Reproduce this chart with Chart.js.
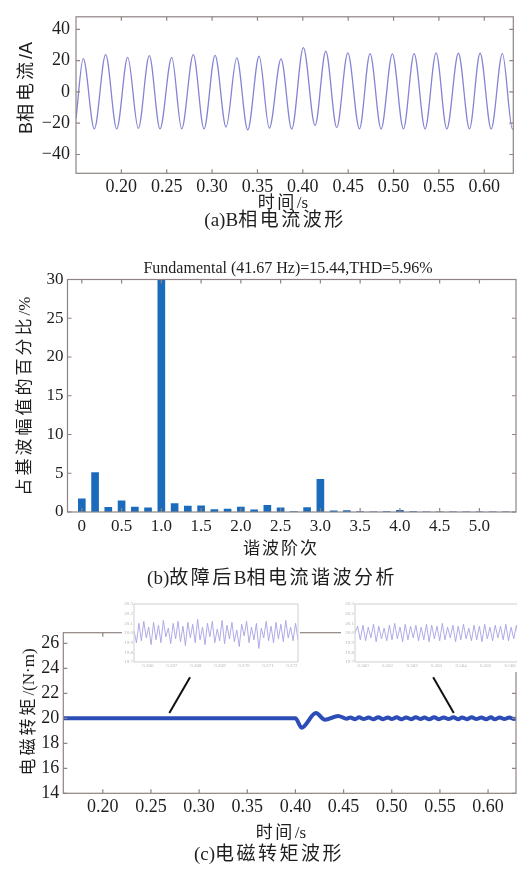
<!DOCTYPE html>
<html><head><meta charset="utf-8">
<script src="https://cdn.jsdelivr.net/npm/chart.js@4.4.1/dist/chart.umd.min.js"></script>
<style>
html,body{margin:0;padding:0;background:#fff;}
#page{position:relative;width:517px;height:871px;overflow:hidden;background:#fff;}
canvas{position:absolute;}
.t{position:absolute;white-space:nowrap;line-height:1;color:#1e1e1e;transform:translate(-50%,-50%);font-family:'Liberation Serif','Noto Sans CJK SC',serif;}
.v{transform:translate(-50%,-50%) rotate(-90deg);}
.s{letter-spacing:2.5px;}
.s3{letter-spacing:3px;}
</style></head>
<body><div id="page">
<canvas id="ca" width="517" height="210" style="left:0;top:0"></canvas>
<canvas id="cb" width="517" height="309" style="left:0;top:250px"></canvas>
<canvas id="cc" width="517" height="247" style="left:0;top:595px"></canvas>
<canvas id="ci1" width="178" height="74" style="left:122px;top:598px;background:#fff"></canvas>
<canvas id="ci2" width="186" height="74" style="left:341px;top:598px;background:#fff"></canvas>

<div class="t v" style="left:26px;top:88px;font-size:18px;font-family:'Liberation Sans','Noto Sans CJK SC',sans-serif">B<span class="s3">相电流</span>/A</div>
<div class="t" style="left:283px;top:202px;font-size:17px"><span class="s">时间</span>/s</div>
<div class="t" style="left:275px;top:219px;font-size:19px">(a)B<span class="s">相电流波形</span></div>

<div class="t" style="left:288px;top:268px;font-size:16px">Fundamental (41.67 Hz)=15.44,THD=5.96%</div>
<div class="t v" style="left:24px;top:396px;font-size:17px"><span class="s3">占基波幅值的百分比</span>/%</div>
<div class="t" style="left:281px;top:548px;font-size:17px;letter-spacing:2px">谐波阶次</div>
<div class="t" style="left:272px;top:577px;font-size:19px">(b)<span class="s">故障后</span>B<span class="s">相电流谐波分析</span></div>

<div class="t v" style="left:28px;top:712px;font-size:17px"><span class="s3">电磁转矩</span>/(N·m)</div>
<div class="t" style="left:281px;top:832px;font-size:17px"><span class="s">时间</span>/s</div>
<div class="t" style="left:269px;top:853px;font-size:19px">(c)<span class="s">电磁转矩波形</span></div>
</div>
<script>
// ---------- (a) B-phase current: extrema ----------
const currentTimes = [0.150,0.1580,0.1702,0.1827,0.1949,0.2070,0.2187,0.2308,0.2426,0.2555,0.2665,0.2793,0.2911,0.3033,0.3154,0.3272,0.3393,0.3518,0.3631,0.3760,0.3878,0.4006,0.4135,0.4253,0.4374,0.4496,0.4624,0.4741,0.4863,0.4987,0.5109,0.5227,0.5348,0.5469,0.5587,0.5715,0.5837,0.5954,0.6076,0.6200,0.6311,0.632];
const currentValues = [-17,21.3,-23.6,23.8,-23.6,22.1,-23.3,23.2,-23.6,22.1,-23.6,23.8,-23.6,23.4,-22.4,21.7,-24.3,22.8,-23.2,21.1,-23.8,28.3,-21.5,26.0,-22.8,24.9,-23.6,24.5,-23.6,24.3,-23.6,24.5,-23.6,24.9,-23.6,24.7,-23.6,24.7,-23.6,24.5,-23.8,-23.7];
const timeTicks = [0.20,0.25,0.30,0.35,0.40,0.45,0.50,0.55,0.60];
const currentTicks = [-40,-20,0,20,40];

// ---------- (b) harmonic spectrum ----------
const harmonicOrders = [0,0.167,0.333,0.5,0.667,0.833,1.0,1.167,1.333,1.5,1.667,1.833,2.0,2.167,2.333,2.5,2.667,2.833,3.0,3.167,3.333,3.5,3.667,3.833,4.0,4.167,4.333,4.5,4.667,4.833,5.0,5.167,5.333];
const harmonicPercent = [1.7,5.1,0.6,1.45,0.65,0.55,100,1.1,0.75,0.8,0.3,0.38,0.65,0.28,0.85,0.55,0.06,0.58,4.2,0.15,0.18,0.06,0.03,0.04,0.2,0.04,0.03,0.03,0.02,0.03,0.02,0.02,0.02];
const harmonicTickValues = [0,0.5,1.0,1.5,2.0,2.5,3.0,3.5,4.0,4.5,5.0];
const harmonicTickLabels = ['0','0.5','1.0','1.5','2.0','2.5','3.0','3.5','4.0','4.5','5.0'];
const percentTicks = [0,5,10,15,20,25,30];

// ---------- (c) electromagnetic torque ----------
const torqueTimes = [0.159,0.400,0.4064,0.4213,0.4306,0.4444,0.4531,0.457,0.462,0.466,0.471,0.476,0.481,0.486,0.491,0.496,0.500,0.505,0.510,0.515,0.520,0.525,0.530,0.534,0.539,0.544,0.549,0.554,0.559,0.564,0.569,0.573,0.578,0.583,0.588,0.593,0.598,0.603,0.607,0.612,0.617,0.622,0.627,0.629];
const torqueValues = [20.0,20.0,19.25,20.42,19.88,20.19,19.97,20.06,19.93,20.08,19.94,20.07,19.92,20.09,19.93,20.07,19.94,20.08,19.92,20.07,19.93,20.09,19.94,20.06,19.92,20.08,19.93,20.07,19.94,20.08,19.92,20.07,19.93,20.08,19.94,20.06,19.93,20.08,19.92,20.07,19.94,20.06,19.95,20.0];
const torqueTicks = [14,16,18,20,22,24,26];
const leaderLeftTimes = [0.2906,0.2691];
const leaderLeftValues = [23.29,20.43];
const leaderRightTimes = [0.5430,0.5644];
const leaderRightValues = [23.29,20.43];

// zoomed insets (torque ripple)
const insetLeftValues = [20.02,19.90,20.10,19.92,20.12,19.95,20.06,19.88,20.11,19.93,20.08,19.90,20.13,19.96,20.05,19.89,20.10,19.94,20.12,19.91,20.07,19.87,20.11,19.95,20.09,19.90,20.14,19.93,20.06,19.88,20.10,19.96,20.12,19.90,20.04,19.92,20.13,19.89,20.08,19.94,20.11,19.91,20.03,19.86,20.09,19.97,20.12,19.90,20.06,19.93,20.10,19.84,20.05,19.95,20.12,19.92,20.07,19.90,20.11,19.94,20.09,19.91,20.13,19.95,20.06,19.92,20.10,19.93];
const insetLeftTicks = [0.266,0.267,0.268,0.269,0.270,0.271,0.272];
const insetRightValues = [20.00,20.07,19.93,20.08,19.92,20.06,19.95,20.09,19.91,20.07,19.94,20.05,19.92,20.08,19.93,20.10,19.94,20.06,19.91,20.09,19.93,20.07,19.95,20.08,19.92,20.06,19.93,20.09,19.91,20.08,19.94,20.07,19.92,20.10,19.93,20.06,19.95,20.08,19.91,20.07,19.93,20.09,19.94,20.05,19.92,20.08,19.93,20.07,19.91,20.09,19.94,20.06,19.92,20.08,19.95,20.07,19.93,20.09,19.92,20.06,19.94,20.08,19.91,20.07,19.93,20.05];
const insetRightTicks = [0.560,0.561,0.562,0.563,0.564,0.565,0.566];
const insetValueTicks = [19.7,19.8,19.9,20.0,20.1,20.2,20.3];

// ---------- helpers ----------
const SERIF = "'Liberation Serif', serif";
const INK = '#1e1e1e';
const FRAME = '#8e8482';
const minusFmt = v => v < 0 ? '\u2212' + Math.abs(v) : String(v);
const pts = (xs, ys) => xs.map((x, i) => ({x, y: ys[i]}));
const setTicks = arr => s => { s.ticks = arr.map(v => ({value: v})); };

const framePlugin = {
  id: 'frame',
  afterDatasetsDraw(chart, args, o) {
    const {ctx, chartArea: a} = chart;
    ctx.save();
    ctx.strokeStyle = o.color || FRAME;
    ctx.lineWidth = o.width || 1.2;
    ctx.strokeRect(a.left, a.top, a.right - a.left, a.bottom - a.top);
    const L = o.tick || 0;
    if (L) {
      const xs = chart.scales[o.xAxis || 'x'], ys = chart.scales.y;
      ctx.beginPath();
      xs.ticks.forEach(t => { const p = xs.getPixelForValue(t.value);
        ctx.moveTo(p, a.bottom); ctx.lineTo(p, a.bottom - L); ctx.moveTo(p, a.top); ctx.lineTo(p, a.top + L); });
      ys.ticks.forEach(t => { const p = ys.getPixelForValue(t.value);
        ctx.moveTo(a.left, p); ctx.lineTo(a.left + L, p); ctx.moveTo(a.right, p); ctx.lineTo(a.right - L, p); });
      ctx.stroke();
    }
    ctx.restore();
  }
};

const baseOpts = (padTop, padRight) => ({
  responsive: false, animation: false, events: [],
  layout: {padding: {top: padTop, right: padRight, left: 0, bottom: 0}},
});

// ---------- chart (a) ----------
new Chart(document.getElementById('ca'), {
  type: 'line',
  data: {datasets: [{data: pts(currentTimes, currentValues), borderColor: '#8583d3', borderWidth: 1.3,
    pointRadius: 0, cubicInterpolationMode: 'monotone', fill: false}]},
  options: Object.assign(baseOpts(14.3, 3.7), {
    plugins: {legend: {display: false}, tooltip: {enabled: false}, frame: {tick: 4}},
    scales: {
      x: {type: 'linear', min: 0.15, max: 0.632, afterBuildTicks: setTicks(timeTicks),
        afterFit: s => { s.height = 36.7; },
        ticks: {autoSkip: false, maxRotation: 0, padding: 3, color: INK, font: {family: SERIF, size: 18},
          callback: v => v.toFixed(2)},
        grid: {display: false, drawTicks: false}, border: {display: false}},
      y: {min: -52, max: 48, afterBuildTicks: setTicks(currentTicks),
        afterFit: s => { s.width = 76; },
        ticks: {padding: 6, color: INK, font: {family: SERIF, size: 18}, callback: minusFmt},
        grid: {display: false, drawTicks: false}, border: {display: false}}
    }
  }),
  plugins: [framePlugin]
});

// ---------- chart (b) ----------
new Chart(document.getElementById('cb'), {
  type: 'bar',
  data: {datasets: [{data: pts(harmonicOrders, harmonicPercent), backgroundColor: '#1b6bbd',
    barThickness: 7, clip: 0}]},
  options: Object.assign(baseOpts(29.5, 1), {
    plugins: {legend: {display: false}, tooltip: {enabled: false}, frame: {tick: 4}},
    scales: {
      x: {type: 'linear', offset: false, min: -0.18, max: 5.46, afterBuildTicks: setTicks(harmonicTickValues),
        afterFit: s => { s.height = 47; },
        ticks: {autoSkip: false, maxRotation: 0, padding: 4, color: INK, font: {family: SERIF, size: 17},
          callback: (v, i) => harmonicTickLabels[i]},
        grid: {display: false, drawTicks: false}, border: {display: false}},
      y: {min: 0, max: 30, afterBuildTicks: setTicks(percentTicks),
        afterFit: s => { s.width = 67.5; },
        ticks: {padding: 4, color: INK, font: {family: SERIF, size: 17}},
        grid: {display: false, drawTicks: false}, border: {display: false}}
    }
  }),
  plugins: [framePlugin]
});

// ---------- chart (c) ----------
new Chart(document.getElementById('cc'), {
  type: 'line',
  data: {datasets: [
    {data: pts(torqueTimes, torqueValues), borderColor: '#2c4cb8', borderWidth: 4, pointRadius: 0,
      cubicInterpolationMode: 'monotone', fill: false},
    {data: pts(leaderLeftTimes, leaderLeftValues), borderColor: '#111', borderWidth: 2, pointRadius: 0, tension: 0},
    {data: pts(leaderRightTimes, leaderRightValues), borderColor: '#111', borderWidth: 2, pointRadius: 0, tension: 0}
  ]},
  options: Object.assign(baseOpts(37.7, 1), {
    plugins: {legend: {display: false}, tooltip: {enabled: false}, frame: {tick: 4}},
    scales: {
      x: {type: 'linear', min: 0.159, max: 0.629, afterBuildTicks: setTicks(timeTicks),
        afterFit: s => { s.height = 48.7; },
        ticks: {autoSkip: false, maxRotation: 0, padding: 3, color: INK, font: {family: SERIF, size: 18},
          callback: v => v.toFixed(2)},
        grid: {display: false, drawTicks: false}, border: {display: false}},
      y: {min: 14, max: 26.85, afterBuildTicks: setTicks(torqueTicks),
        afterFit: s => { s.width = 63.3; },
        ticks: {padding: 4, color: INK, font: {family: SERIF, size: 18}},
        grid: {display: false, drawTicks: false}, border: {display: false}}
    }
  }),
  plugins: [framePlugin]
});

// ---------- insets ----------
function makeInset(id, values, tickTimes, tMin, tMax, yWidth, padRight) {
  new Chart(document.getElementById(id), {
    type: 'line',
    data: {labels: values.map((_, i) => i),
      datasets: [{data: values, borderColor: '#a6a2e4', borderWidth: 0.9, pointRadius: 0, tension: 0, xAxisID: 'x'}]},
    options: Object.assign(baseOpts(6, padRight), {
      plugins: {legend: {display: false}, tooltip: {enabled: false}, frame: {color: '#cfcfcf', width: 1}},
      scales: {
        x: {type: 'category', display: false, offset: false},
        xt: {type: 'linear', position: 'bottom', min: tMin, max: tMax, afterBuildTicks: setTicks(tickTimes),
          afterFit: s => { s.height = 10; },
          ticks: {autoSkip: false, maxRotation: 0, padding: 1, color: '#b5b5b5', font: {family: SERIF, size: 5},
            callback: v => v.toFixed(3)},
          grid: {display: false, drawTicks: false}, border: {display: false}},
        y: {min: 19.7, max: 20.3, afterBuildTicks: setTicks(insetValueTicks),
          afterFit: s => { s.width = yWidth; },
          ticks: {padding: 1, color: '#b5b5b5', font: {family: SERIF, size: 5}, callback: v => v.toFixed(1)},
          grid: {display: false, drawTicks: false}, border: {display: false}}
      }
    }),
    plugins: [framePlugin]
  });
}
makeInset('ci1', insetLeftValues, insetLeftTicks, 0.26542, 0.27225, 12, 2);
makeInset('ci2', insetRightValues, insetRightTicks, 0.55967, 0.56669, 14, 0);
</script>
</body></html>
